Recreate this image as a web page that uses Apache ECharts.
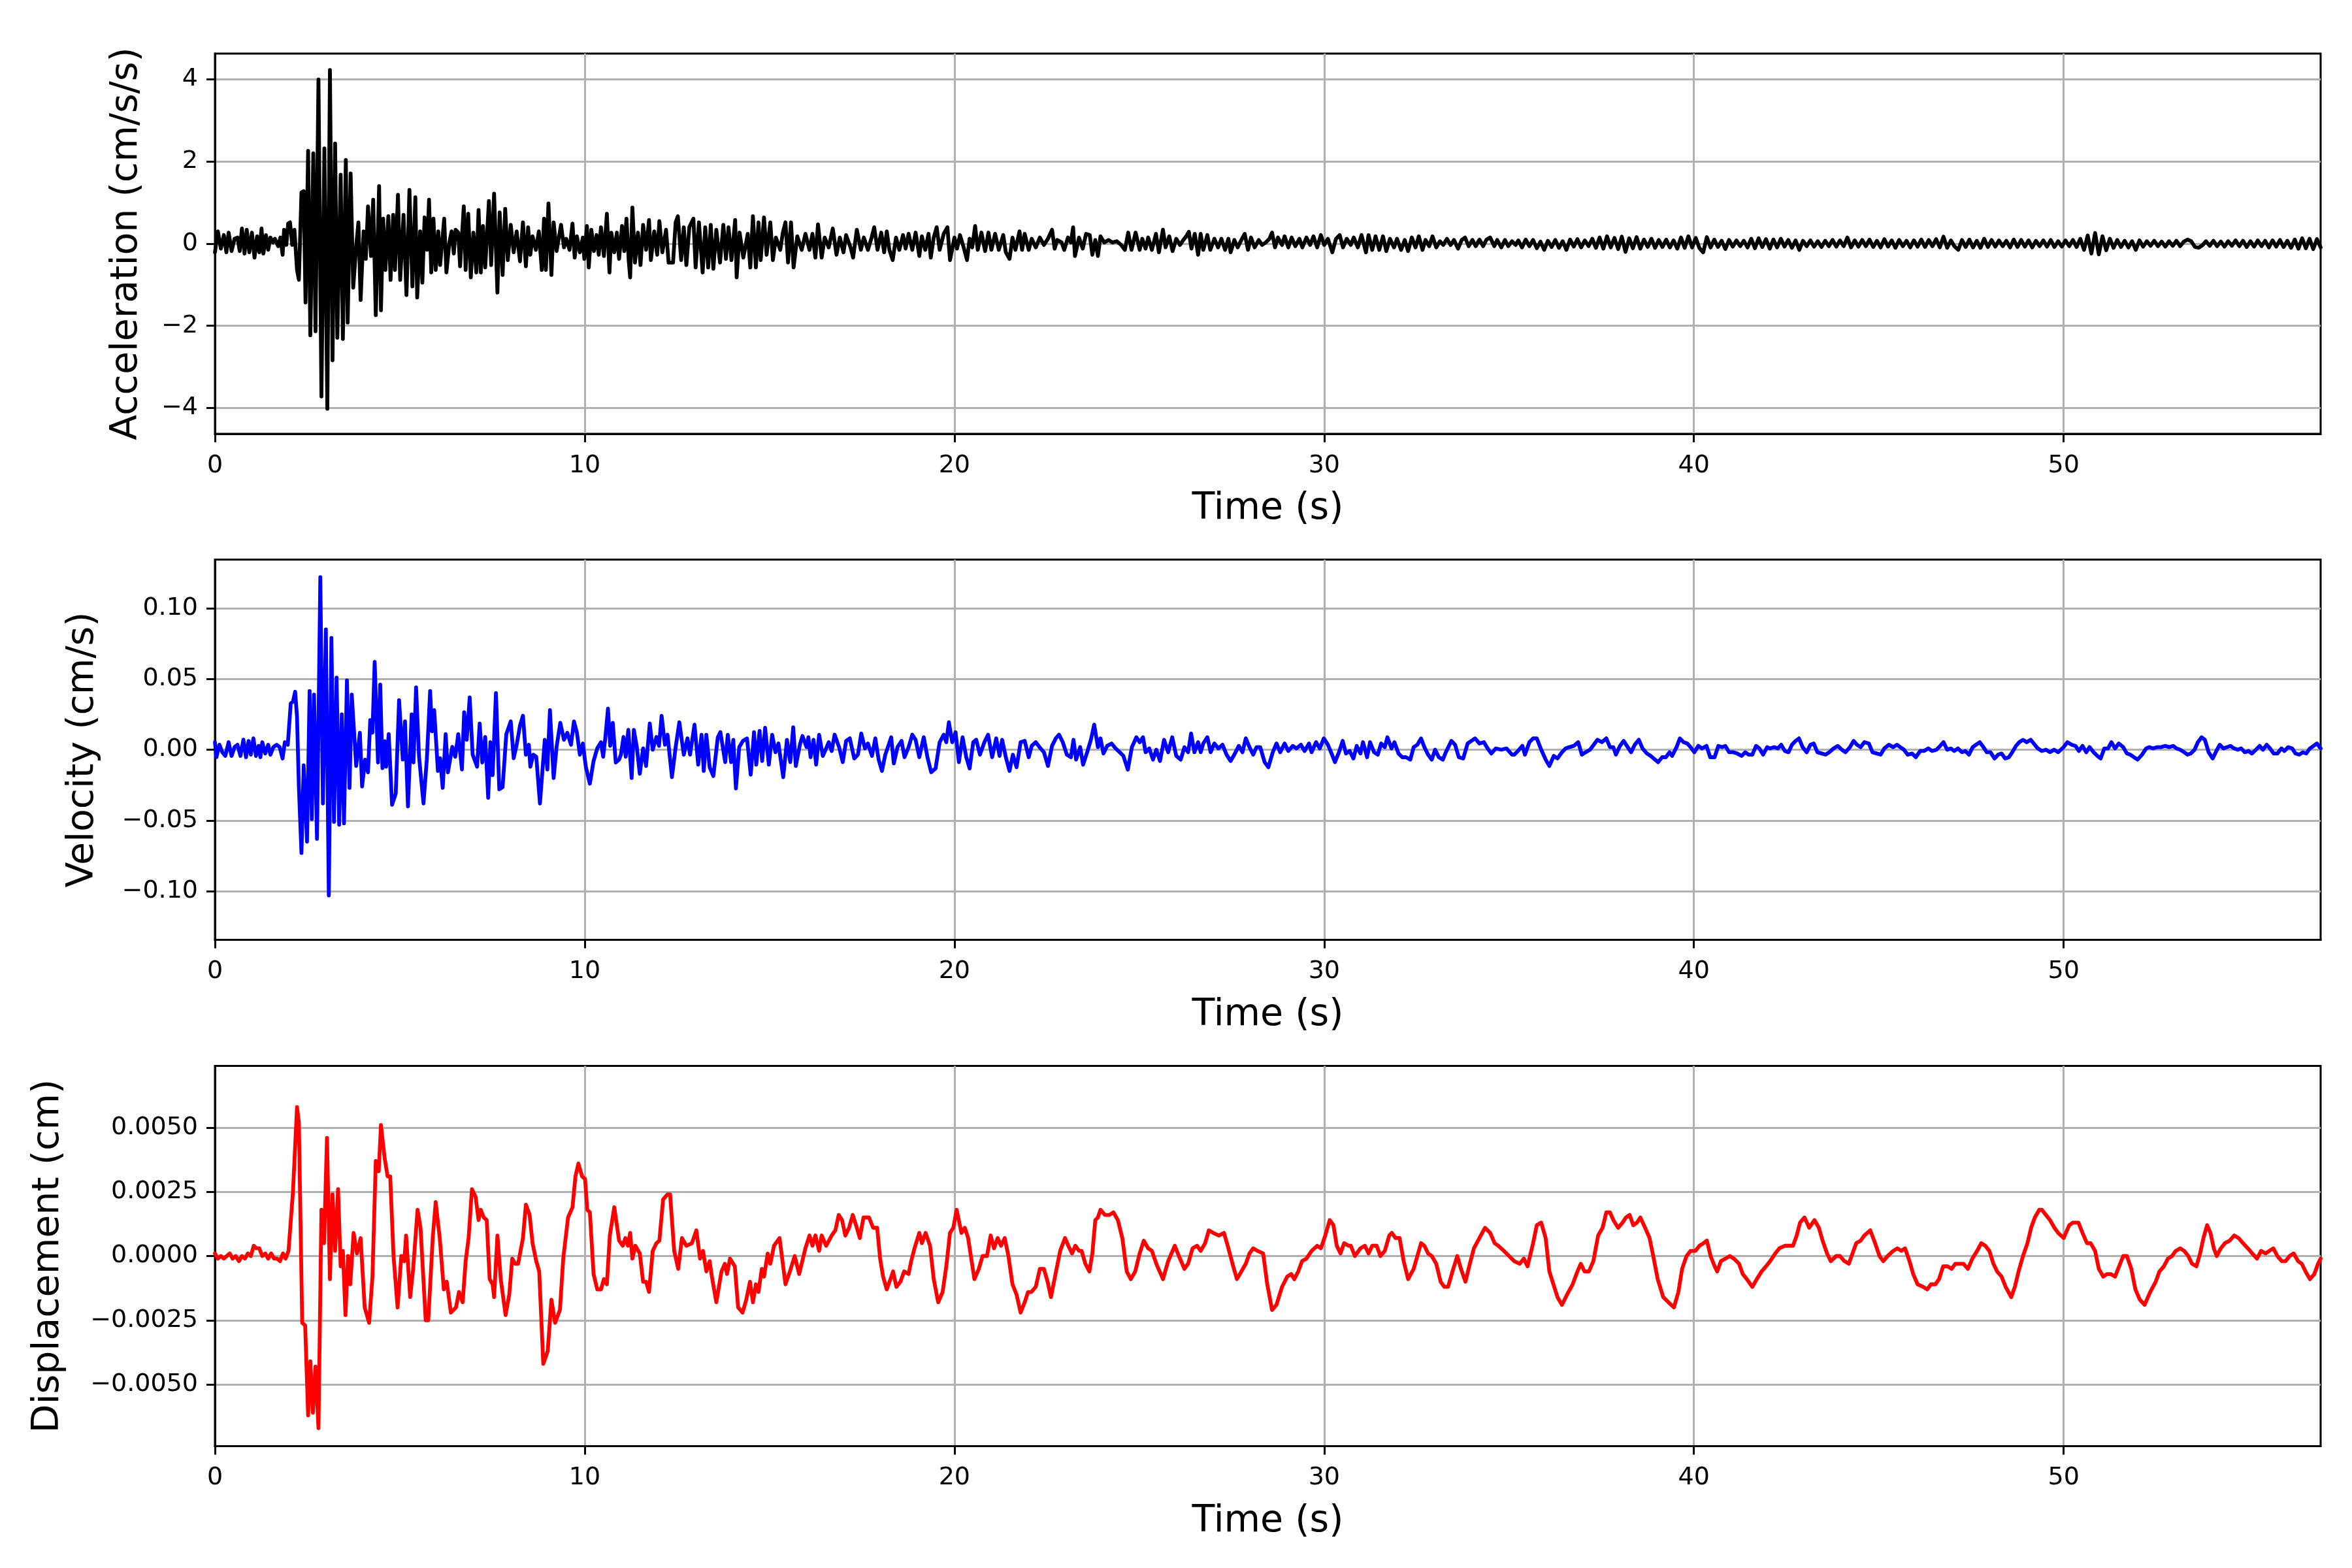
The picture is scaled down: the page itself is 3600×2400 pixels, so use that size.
<!DOCTYPE html>
<html>
<head>
<meta charset="utf-8">
<script src="https://cdn.jsdelivr.net/npm/echarts@6/dist/echarts.min.js"></script>
<style>
  html, body { margin: 0; padding: 0; background: #fff; }
  #main { width: 3600px; height: 2400px; }
</style>
</head>
<body>
<div id="main"></div>
<script>
// tick labels
var timeTicks = [0, 10, 20, 30, 40, 50];
var accelTicks = [-4, -2, 0, 2, 4];
var velTicks = [-0.10, -0.05, 0, 0.05, 0.10];
var dispTicks = [-0.005, -0.0025, 0, 0.0025, 0.005];

// axis extents
var timeMax = 56.95;
var accelLim = 4.63;
var velLim = 0.1344;
var dispLim = 0.0074;

// acceleration [time, cm/s/s]
var accelEarly = [
  [0.00,-0.21],[0.08,0.30],[0.16,-0.12],[0.24,0.21],[0.31,-0.21],[0.37,0.27],[0.45,-0.18],[0.53,0.12],[0.61,0.15],[0.67,-0.18],
  [0.73,0.37],[0.80,-0.24],[0.86,0.34],[0.93,-0.21],[1.00,0.27],[1.07,-0.34],[1.14,0.18],[1.20,-0.21],[1.26,0.37],[1.31,-0.24],
  [1.38,0.21],[1.44,-0.15],[1.50,0.15],[1.57,0.03],[1.62,0.12],[1.71,-0.06],[1.77,0.15],[1.83,-0.27],[1.87,0.34],[1.93,-0.03],
  [1.98,0.49],[2.03,0.52],[2.09,-0.03],[2.15,0.34],[2.22,-0.64],[2.27,-0.88],[2.34,1.25],[2.40,1.28],[2.45,-1.43],[2.52,2.26],
  [2.58,-2.23],[2.66,2.20],[2.72,-2.13],[2.80,4.00],[2.88,-3.72],[2.96,2.32],[3.04,-4.02],[3.11,4.23],[3.18,-2.84],[3.25,2.44],
  [3.31,-2.29],[3.40,1.68],[3.46,-2.32],[3.54,2.04],[3.59,-1.92],[3.67,1.71],[3.74,-1.07],[3.82,-0.06],[3.88,0.52],[3.94,-1.37],
  [4.02,0.30],[4.08,-0.37],[4.14,0.91],[4.22,-0.30],[4.28,1.07],[4.35,-1.74],[4.44,1.40],[4.49,-1.62],[4.55,0.61],[4.61,-0.64],
  [4.69,0.67],[4.75,-0.88],[4.82,0.70],[4.87,-0.64],[4.95,1.19],[5.01,-0.88],[5.10,0.70],[5.18,-1.25],[5.26,1.31],[5.34,-1.04],
  [5.42,1.13],[5.47,-1.31],[5.55,0.30],[5.61,-0.95],[5.67,0.64],[5.74,-0.15],[5.79,1.07],[5.85,-0.70],[5.91,0.61],[5.97,-0.64],
  [6.04,0.30],[6.09,-0.52],[6.20,0.61],[6.26,-0.70],[6.34,0.03],[6.40,0.30],[6.46,-0.24],[6.51,0.34],[6.58,0.27],[6.63,-0.55],
  [6.73,0.91],[6.78,-0.64],[6.85,0.73],[6.92,-0.82],[6.99,0.27],[7.07,-0.70],[7.13,0.82],[7.19,-0.70],[7.25,0.43],[7.31,-0.58],
  [7.41,1.04],[7.47,-0.52],[7.55,1.22],[7.64,-1.19],[7.70,0.76],[7.78,-0.76],[7.85,0.85],[7.92,-0.40],[8.00,0.46],[8.08,-0.21],
  [8.16,0.30],[8.25,-0.43],[8.33,0.52],[8.41,-0.55],[8.47,0.40],[8.53,-0.27],[8.59,0.18],[8.68,-0.15],[8.76,0.30],[8.84,-0.64],
  [8.90,0.61],[8.95,-0.64],[9.02,0.98],[9.10,-0.76],[9.16,0.52],[9.24,-0.18],[9.36,0.46],[9.44,-0.09],[9.50,0.12],[9.59,-0.15],
  [9.67,0.49],[9.73,-0.34],[9.79,0.18],[9.87,-0.21],[9.95,0.15],[9.99,-0.37],[10.06,0.43],[10.11,-0.58],[10.18,0.34],[10.25,-0.18],
  [10.32,0.21],[10.38,-0.27],[10.44,0.40],[10.52,-0.30],[10.60,0.73],[10.67,-0.70],[10.72,0.27],[10.80,-0.21],[10.87,0.27],[10.93,-0.37],
  [11.01,0.43],[11.07,-0.18],[11.13,0.61],[11.19,-0.40],[11.23,-0.82],[11.29,0.88],[11.36,-0.46],[11.44,0.27],[11.51,-0.52],[11.58,0.46],
  [11.66,-0.15],[11.74,0.58],[11.79,-0.40],[11.88,0.30],[11.96,-0.27],[12.02,0.55],[12.10,-0.21],[12.20,0.34],[12.27,-0.46]
];
var accelMid = [
  [12.39,-0.46],[12.46,0.52],[12.52,0.67],[12.61,-0.40],[12.68,0.40],[12.75,-0.52],[12.83,0.40],[12.94,0.61],[13.00,-0.58],[13.09,0.52],
  [13.19,-0.70],[13.26,0.40],[13.34,-0.58],[13.41,0.46],[13.48,-0.61],[13.56,0.34],[13.66,-0.46],[13.75,0.46],[13.82,-0.37],[13.89,0.40],
  [13.97,-0.40],[14.07,0.58],[14.11,-0.82],[14.19,0.27],[14.29,-0.34],[14.41,0.24],[14.48,-0.58],[14.55,0.67],[14.63,-0.58],[14.70,0.52],
  [14.76,-0.40],[14.85,0.64],[14.92,-0.27],[15.02,0.52],[15.09,-0.40],[15.17,0.15],[15.29,-0.15],[15.36,0.27],[15.43,0.52],[15.50,-0.46],
  [15.58,0.52],[15.65,-0.58],[15.75,0.18],[15.87,-0.15],[15.97,0.24],[16.08,-0.15],[16.16,0.24],[16.24,-0.34],[16.31,0.47],[16.41,-0.34],
  [16.49,0.15],[16.60,-0.09],[16.71,0.37],[16.81,-0.27],[16.90,0.15],[17.00,-0.21],[17.07,0.21],[17.19,-0.09],[17.26,-0.34],[17.36,0.34],
  [17.47,-0.15],[17.55,0.15],[17.66,-0.15],[17.76,0.15],[17.83,0.40],[17.92,-0.15],[18.02,0.27],[18.10,-0.21],[18.17,0.30],[18.24,-0.15],
  [18.33,-0.40],[18.42,0.15],[18.51,-0.15],[18.61,0.21],[18.68,-0.12],[18.76,0.24],[18.86,-0.15],[18.95,0.27],[19.05,-0.30],[19.12,0.18],
  [19.21,-0.15],[19.30,0.24],[19.36,-0.34],[19.44,0.15],[19.52,0.40],[19.60,-0.15],[19.71,0.24],[19.81,0.40],[19.88,-0.40],[20.00,0.15],
  [20.07,-0.12],[20.15,0.21],[20.25,-0.09],[20.34,-0.40],[20.41,0.12],[20.48,-0.09],[20.56,0.43],[20.63,-0.15],[20.73,0.27],[20.83,-0.18],
  [20.92,0.27],[21.00,-0.15],[21.10,0.24],[21.20,-0.15],[21.32,0.21],[21.39,-0.21],[21.49,-0.37],[21.57,0.15],[21.65,-0.15],[21.76,0.30],
  [21.83,-0.15],[21.90,0.24],[22.01,-0.15],[22.09,0.12],[22.20,-0.09],[22.31,0.15],[22.42,-0.03],[22.53,0.12],[22.64,0.34],[22.71,-0.12],
  [22.78,0.09],[22.90,0.03],[22.97,-0.15],[23.07,0.15],[23.15,0.03],[23.21,0.40],[23.26,-0.30],[23.37,0.15],[23.47,-0.12],[23.56,0.24],
  [23.66,0.21],[23.73,-0.27],[23.81,0.09],[23.88,-0.30],[23.95,0.18],[24.05,0.03],[24.17,0.09],[24.27,0.03],[24.39,0.06],[24.51,-0.03],
  [24.61,-0.15],[24.70,0.27],[24.79,-0.15],[24.90,0.27],[25.01,-0.15],[25.08,0.12],[25.17,-0.12],[25.24,0.15],[25.34,-0.15],[25.45,0.24],
  [25.53,-0.21],[25.64,0.34],[25.71,-0.09],[25.81,0.18],[25.90,-0.18],[26.00,0.12],[26.10,-0.03],[26.19,0.09],[26.27,0.18],[26.34,0.29],
  [26.41,-0.12],[26.50,0.24],[26.59,-0.27],[26.66,0.24],[26.73,-0.15],[26.84,0.21],[26.92,-0.15],[27.03,0.12],[27.13,-0.09],[27.22,0.12],
  [27.32,-0.15],[27.41,0.12],[27.47,-0.21],[27.57,0.09],[27.66,-0.09],[27.76,0.09],[27.85,0.24],[27.94,-0.15],[28.02,0.15],[28.12,-0.09],
  [28.23,0.09],[28.32,-0.03],[28.42,0.03],[28.52,0.12],[28.59,0.27],[28.67,-0.09],[28.75,0.15],[28.86,-0.03],[28.93,0.18],[29.03,-0.09],
  [29.12,0.15],[29.22,-0.06],[29.33,0.12],[29.41,-0.09],[29.52,0.15],[29.62,-0.03],[29.71,0.18],[29.81,-0.09],[29.91,0.21],[30.00,-0.03],
  [30.10,0.12],[30.22,-0.21],[30.32,0.12],[30.42,0.21],[30.51,-0.09],[30.61,0.12],[30.72,-0.03],[30.80,0.15],[30.91,-0.09],[31.01,0.21],
  [31.13,-0.21],[31.20,0.21],[31.30,-0.15],[31.39,0.18],[31.49,-0.15],[31.59,0.18],[31.68,-0.18],[31.78,0.12],[31.89,-0.09],[31.97,0.12],
  [32.08,-0.15],[32.18,0.09],[32.27,-0.18],[32.37,0.15],[32.47,-0.09],[32.56,0.18],[32.66,-0.15],[32.74,0.09],[32.84,-0.06],[32.93,0.18],
  [33.03,-0.09],[33.13,0.06],[33.22,-0.03],[33.32,0.12],[33.42,-0.03],[33.51,0.09],[33.62,-0.12],[33.72,0.09],[33.81,0.15],[33.91,-0.06],
  [34.01,0.09],[34.10,-0.06],[34.20,0.10],[34.30,-0.06],[34.39,0.10],[34.49,0.15],[34.60,-0.06],[34.68,0.09],[34.79,-0.09],[34.89,0.09],
  [34.98,-0.06],[35.08,0.06],[35.18,-0.03]
];
// tail samples every 0.1 s from 35.25 s
var accelLateStart = 35.25;
var accelLateStep = 0.1;
var accelLate = [
  0.08,-0.09,0.10,-0.06,0.09,-0.11,0.05,-0.15,0.07,-0.08,
  0.09,-0.10,0.06,-0.15,0.10,-0.07,0.11,-0.09,0.08,-0.06,
  0.12,-0.10,0.15,-0.12,0.18,-0.09,0.14,-0.13,0.17,-0.20,
  0.13,-0.11,0.16,-0.12,0.10,-0.08,0.12,-0.10,0.09,-0.08,
  0.10,-0.09,0.08,-0.12,0.15,-0.10,0.18,-0.09,0.14,-0.11,
  -0.21,0.16,-0.09,0.10,-0.08,0.07,-0.13,0.09,-0.07,0.08,
  -0.06,0.07,-0.09,0.12,-0.11,0.13,-0.08,0.11,-0.12,0.10,
  -0.09,0.12,-0.07,0.09,-0.10,0.08,-0.15,0.07,-0.06,0.08,
  -0.07,0.06,-0.08,0.07,-0.06,0.09,-0.07,0.08,-0.06,0.15,
  -0.09,0.08,-0.07,0.09,-0.06,0.10,-0.08,0.07,-0.09,0.11,
  -0.07,0.08,-0.10,0.09,-0.06,0.07,-0.09,0.08,-0.07,0.10,
  -0.08,0.09,-0.06,0.11,-0.09,0.17,-0.10,0.08,-0.07,-0.15,
  0.09,-0.08,0.10,-0.09,0.07,-0.10,0.12,-0.08,0.09,-0.07,
  0.08,-0.06,0.07,-0.09,0.10,-0.08,0.09,-0.07,0.08,-0.09,
  0.07,-0.06,0.08,-0.07,0.09,-0.08,0.06,-0.07,0.08,-0.06,
  0.09,-0.08,0.12,-0.15,0.20,-0.24,0.26,-0.26,0.18,-0.16,
  0.12,-0.10,0.09,-0.08,0.07,-0.09,0.06,-0.15,0.08,-0.07,
  0.06,-0.05,0.07,-0.06,0.05,-0.07,0.06,-0.05,0.07,-0.06,
  0.05,0.10,0.06,-0.08,-0.10,-0.04,0.06,-0.05,0.07,-0.06,
  0.05,-0.07,0.06,-0.05,0.08,-0.06,0.07,-0.08,0.06,-0.07,
  0.08,-0.06,0.07,-0.09,0.08,-0.07,0.09,-0.08,0.07,-0.10,
  0.10,-0.12,0.13,-0.11,0.12,-0.13,0.11,-0.09
];

// velocity [time, cm/s]
var velEarly = [
  [0.00,0.0053],[0.04,-0.0053],[0.12,0.0035],[0.20,-0.0018],[0.28,-0.0044],[0.37,0.0053],[0.45,-0.0044],[0.53,0.0018],[0.61,0.0035],[0.69,-0.0044],
  [0.77,0.0071],[0.84,-0.0053],[0.91,0.0062],[0.97,-0.0035],[1.04,0.0080],[1.11,-0.0044],[1.18,0.0027],[1.23,-0.0053],[1.28,0.0053],[1.36,-0.0027],
  [1.44,0.0035],[1.50,-0.0035],[1.58,0.0018],[1.67,0.0035],[1.75,0.0018],[1.83,-0.0062],[1.89,0.0053],[1.97,0.0035],[2.05,0.0327],[2.11,0.0340],
  [2.17,0.0410],[2.22,0.0230],[2.27,-0.0265],[2.34,-0.0730],[2.40,-0.0110],[2.49,-0.0650],[2.56,0.0415],[2.62,-0.0490],[2.68,0.0390],[2.76,-0.0630],
  [2.85,0.1220],[2.92,-0.0380],[3.00,0.0850],[3.08,-0.1030],[3.15,0.0790],[3.22,-0.0510],[3.29,0.0510],[3.36,-0.0530],[3.43,0.0250],[3.49,-0.0520],
  [3.57,0.0490],[3.64,-0.0270],[3.70,0.0390],[3.82,-0.0115],[3.92,0.0120],[3.98,-0.0260],[4.06,-0.0070],[4.14,-0.0160],[4.20,0.0210],[4.26,0.0120],
  [4.32,0.0620],[4.41,-0.0090],[4.47,0.0460],[4.53,-0.0130],[4.59,0.0060],[4.63,-0.0120],[4.70,0.0110],[4.79,-0.0390],[4.89,-0.0310],[4.98,0.0350],
  [5.08,-0.0070],[5.14,0.0200],[5.22,-0.0400],[5.32,0.0250],[5.37,-0.0090],[5.44,0.0440],[5.52,-0.0050],[5.64,-0.0380],[5.73,-0.0070],[5.82,0.0415],
  [5.87,0.0130],[5.93,0.0280],[6.03,-0.0150],[6.09,-0.0060],[6.16,-0.0270],[6.24,0.0110],[6.30,-0.0160],[6.42,0.0020],[6.50,-0.0050],[6.58,0.0110],
  [6.68,-0.0140],[6.74,0.0265],[6.81,0.0070],[6.89,0.0370],[6.97,-0.0035],[7.09,-0.0120],[7.16,0.0185],[7.23,-0.0090],[7.31,0.0090],[7.39,-0.0340],
  [7.45,0.0053],[7.51,-0.0180],[7.60,0.0400],[7.69,-0.0280],[7.78,-0.0265],[7.88,0.0110],[8.00,0.0200],[8.08,-0.0060],[8.16,0.0035],[8.25,0.0170],
  [8.33,0.0240],[8.41,-0.0035],[8.49,0.0035],[8.53,-0.0120],[8.61,-0.0035],[8.69,-0.0050],[8.79,-0.0380],[8.92,0.0070],[8.99,-0.0140],[9.06,0.0280],
  [9.16,-0.0200],[9.24,0.0020],[9.34,0.0190],[9.44,0.0070],[9.53,0.0120],[9.63,0.0035],[9.71,0.0200],[9.79,0.0120],[9.87,-0.0035],[9.95,0.0044],
  [10.03,-0.0120],[10.14,-0.0240],[10.24,-0.0080],[10.34,0.0010],[10.44,0.0053],[10.50,-0.0050],[10.56,0.0090],[10.63,0.0290],[10.69,0.0027],[10.76,0.0190],
  [10.84,-0.0090],[10.93,-0.0070],[10.98,-0.0035],[11.05,0.0090],[11.11,-0.0050],[11.18,0.0140],[11.27,-0.0200],[11.33,0.0140],[11.41,0.0018],[11.49,-0.0170],
  [11.58,0.0010],[11.66,-0.0115],[11.76,0.0185],[11.84,0.0000],[11.94,0.0090],[12.01,0.0027],[12.08,0.0240],[12.17,0.0035]
];
var velLate = [
  [12.24,0.0106],[12.36,-0.0194],[12.46,0.0018],[12.56,0.0194],[12.68,-0.0035],[12.78,0.0080],[12.85,-0.0035],[12.97,0.0177],[13.07,-0.0106],[13.16,0.0106],
  [13.22,-0.0150],[13.29,0.0106],[13.38,-0.0124],[13.48,-0.0186],[13.60,0.0088],[13.67,0.0124],[13.80,-0.0088],[13.87,0.0106],[13.96,-0.0088],[14.02,0.0070],
  [14.09,-0.0274],[14.18,0.0018],[14.28,0.0062],[14.39,0.0080],[14.49,-0.0177],[14.58,0.0124],[14.64,-0.0106],[14.73,0.0133],[14.80,-0.0080],[14.88,0.0155],
  [14.98,-0.0106],[15.07,0.0106],[15.16,-0.0018],[15.24,0.0044],[15.37,-0.0194],[15.47,0.0070],[15.56,-0.0088],[15.64,0.0159],[15.71,-0.0115],[15.82,0.0035],
  [15.89,0.0097],[16.00,0.0018],[16.05,0.0088],[16.11,-0.0053],[16.19,0.0070],[16.26,-0.0106],[16.34,0.0106],[16.44,-0.0044],[16.53,0.0009],[16.60,0.0053],
  [16.68,-0.0009],[16.76,0.0106],[16.88,0.0018],[16.98,-0.0088],[17.07,0.0062],[17.17,0.0080],[17.29,-0.0062],[17.39,-0.0035],[17.48,0.0115],[17.58,0.0009],
  [17.66,0.0044],[17.77,-0.0044],[17.86,0.0080],[17.95,-0.0070],[18.04,-0.0150],[18.13,-0.0035],[18.20,0.0018],[18.29,0.0088],[18.36,-0.0097],[18.46,0.0018],
  [18.57,0.0062],[18.65,-0.0053],[18.76,0.0018],[18.86,0.0106],[18.95,0.0070],[19.05,-0.0053],[19.17,0.0088],[19.27,-0.0053],[19.37,-0.0159],[19.49,-0.0133],
  [19.60,0.0053],[19.71,0.0106],[19.78,0.0053],[19.85,0.0194],[19.94,0.0053],[20.03,0.0124],[20.12,-0.0088],[20.22,0.0088],[20.32,-0.0053],[20.41,-0.0133],
  [20.51,0.0053],[20.59,0.0070],[20.69,-0.0035],[20.81,0.0053],[20.91,0.0106],[21.02,-0.0053],[21.13,0.0080],[21.22,-0.0044],[21.29,0.0070],[21.39,-0.0053],
  [21.49,-0.0150],[21.58,-0.0035],[21.68,-0.0124],[21.79,0.0053],[21.90,0.0062],[22.01,-0.0053],[22.09,0.0027],[22.20,0.0053],[22.30,0.0018],[22.42,-0.0018],
  [22.53,-0.0115],[22.64,0.0027],[22.74,0.0080],[22.83,0.0106],[22.93,0.0053],[23.04,-0.0035],[23.15,-0.0053],[23.22,0.0070],[23.29,-0.0070],[23.40,0.0018],
  [23.48,-0.0106],[23.59,-0.0018],[23.69,0.0070],[23.78,0.0177],[23.88,0.0018],[23.95,0.0080],[24.03,-0.0027],[24.13,0.0027],[24.25,0.0044],[24.36,0.0009],
  [24.47,-0.0018],[24.57,-0.0044],[24.69,-0.0141],[24.80,0.0018],[24.92,0.0088],[25.01,0.0053],[25.10,0.0088],[25.17,-0.0018],[25.27,0.0009],[25.37,-0.0070],
  [25.46,0.0000],[25.56,-0.0080],[25.67,0.0070],[25.78,-0.0018],[25.89,0.0088],[26.00,-0.0044],[26.12,-0.0070],[26.22,0.0018],[26.32,-0.0018],[26.40,0.0115],
  [26.49,-0.0018],[26.59,0.0053],[26.66,-0.0018],[26.73,0.0044],[26.84,0.0088],[26.93,-0.0018],[27.03,0.0044],[27.14,0.0009],[27.25,0.0035],[27.36,-0.0035],
  [27.47,-0.0080],[27.57,-0.0035],[27.69,0.0027],[27.79,-0.0018],[27.88,0.0080],[27.98,0.0018],[28.08,-0.0035],[28.17,0.0018],[28.27,0.0018],[28.39,-0.0088],
  [28.49,-0.0124],[28.61,-0.0018],[28.71,0.0044],[28.81,-0.0018],[28.93,0.0044],[29.03,-0.0009],[29.15,0.0027],[29.25,0.0009],[29.37,0.0035],[29.47,-0.0009],
  [29.59,0.0044],[29.66,-0.0018],[29.78,0.0053],[29.88,0.0009],[29.99,0.0080],[30.10,0.0035],[30.20,-0.0027],[30.29,-0.0088],[30.40,-0.0018],[30.50,0.0062],
  [30.59,-0.0027],[30.69,-0.0009],[30.79,-0.0062],[30.88,0.0027],[30.98,-0.0027],[31.05,0.0053],[31.16,-0.0053],[31.24,0.0053],[31.35,-0.0018],[31.45,-0.0035],
  [31.54,0.0044],[31.64,0.0018],[31.71,0.0088],[31.82,0.0009],[31.90,0.0053],[32.01,-0.0027],[32.11,-0.0053],[32.21,-0.0053],[32.33,-0.0070],[32.42,0.0018],
  [32.52,0.0035],[32.62,0.0080],[32.71,0.0018],[32.81,-0.0035],[32.91,-0.0070],[33.00,0.0000],[33.10,-0.0053],[33.21,-0.0070],[33.29,-0.0018],[33.44,0.0062],
  [33.54,0.0035],[33.64,-0.0053],[33.76,-0.0062],[33.88,0.0044],[33.98,0.0062],[34.08,0.0080],[34.20,0.0044],[34.32,0.0053],[34.42,0.0009],[34.52,-0.0027],
  [34.64,0.0009],[34.79,0.0000],[34.93,0.0009],[35.08,-0.0035],[35.14,-0.0035],[35.24,-0.0009],[35.36,0.0027],[35.43,-0.0035],[35.55,0.0053],[35.65,0.0080],
  [35.75,0.0080],[35.87,0.0000],[35.99,-0.0070],[36.09,-0.0115],[36.21,-0.0044],[36.31,-0.0062],[36.43,-0.0018],[36.53,0.0009],[36.63,0.0018],[36.75,0.0027],
  [36.87,0.0053],[36.97,-0.0035],[37.07,-0.0018],[37.19,0.0000],[37.29,0.0035],[37.39,0.0070],[37.51,0.0053],[37.63,0.0080],[37.73,0.0018],[37.82,0.0018],
  [37.89,-0.0035],[38.00,0.0027],[38.10,0.0062],[38.21,0.0018],[38.30,-0.0018],[38.40,0.0035],[38.51,0.0070],[38.61,0.0009],[38.73,-0.0027],[38.83,-0.0044],
  [38.95,-0.0070],[39.03,-0.0088],[39.14,-0.0053],[39.24,-0.0053],[39.34,-0.0018],[39.41,-0.0044],[39.53,0.0018],[39.62,0.0080],[39.72,0.0053],[39.82,0.0044],
  [39.91,0.0018],[40.01,-0.0018],[40.12,0.0027],[40.22,0.0009],[40.34,0.0027],[40.44,-0.0053],[40.56,-0.0053],[40.66,0.0027],[40.76,0.0018],[40.85,0.0027],
  [40.95,-0.0018],[41.07,-0.0018],[41.17,-0.0027],[41.29,-0.0044],[41.39,-0.0018],[41.48,-0.0035],[41.58,-0.0035],[41.68,0.0027],[41.77,0.0009],[41.87,-0.0035],
  [41.98,0.0018],[42.06,0.0009],[42.17,0.0018],[42.27,0.0009],[42.36,0.0035],[42.46,-0.0009],[42.56,-0.0018],[42.65,0.0035],[42.75,0.0062],[42.84,0.0080],
  [42.94,0.0018],[43.05,-0.0018],[43.15,0.0035],[43.24,0.0044],[43.34,-0.0018],[43.46,-0.0027],[43.56,-0.0035],[43.66,-0.0018],[43.78,0.0009],[43.89,0.0027],
  [44.00,0.0000],[44.10,-0.0018],[44.22,0.0018],[44.32,0.0062],[44.41,0.0035],[44.51,0.0018],[44.61,0.0053],[44.73,0.0044],[44.83,-0.0018],[44.95,-0.0027],
  [45.05,-0.0035],[45.15,0.0009],[45.27,0.0035],[45.39,0.0018],[45.49,0.0035],[45.58,0.0018],[45.68,0.0000],[45.78,-0.0035],[45.90,-0.0027],[46.00,-0.0053],
  [46.12,-0.0009],[46.22,-0.0009],[46.34,0.0009],[46.44,-0.0009],[46.56,0.0000],[46.66,0.0027],[46.75,0.0053],[46.85,0.0000],[46.95,0.0009],[47.04,-0.0009],
  [47.14,0.0009],[47.25,-0.0018],[47.34,-0.0009],[47.44,-0.0035],[47.54,0.0018],[47.63,0.0035],[47.73,0.0053],[47.83,0.0018],[47.92,-0.0018],[48.02,-0.0018],
  [48.13,-0.0062],[48.23,-0.0035],[48.32,-0.0027],[48.42,-0.0062],[48.52,-0.0053],[48.61,-0.0018],[48.71,0.0027],[48.80,0.0053],[48.90,0.0070],[49.00,0.0053],
  [49.11,0.0070],[49.19,0.0044],[49.30,0.0009],[49.41,-0.0009],[49.52,0.0000],[49.63,-0.0018],[49.74,0.0000],[49.85,-0.0018],[50.00,0.0018],[50.10,0.0053],
  [50.22,0.0035],[50.32,0.0027],[50.41,-0.0009],[50.51,0.0027],[50.61,-0.0018],[50.70,0.0018],[50.81,-0.0018],[50.91,-0.0044],[51.00,-0.0062],[51.10,0.0009],
  [51.20,0.0009],[51.29,0.0053],[51.39,0.0009],[51.49,0.0044],[51.61,0.0018],[51.71,-0.0027],[51.80,-0.0035],[51.90,-0.0053],[52.00,-0.0070],[52.12,-0.0035],
  [52.23,0.0009],[52.31,0.0018],[52.42,0.0009],[52.53,0.0018],[52.64,0.0018],[52.74,0.0027],[52.86,0.0018],[52.96,0.0027],[53.05,0.0009],[53.15,0.0000],
  [53.26,-0.0018],[53.35,-0.0035],[53.44,-0.0027],[53.54,0.0000],[53.63,0.0053],[53.73,0.0088],[53.82,0.0070],[53.92,-0.0018],[54.03,-0.0062],[54.13,-0.0009],
  [54.22,0.0035],[54.32,0.0009],[54.42,0.0018],[54.51,0.0027],[54.61,0.0009],[54.71,0.0000],[54.80,0.0009],[54.90,-0.0018],[55.00,-0.0009],[55.09,-0.0027],
  [55.20,0.0000],[55.30,0.0027],[55.39,0.0000],[55.49,0.0035],[55.58,0.0009],[55.68,-0.0027],[55.78,-0.0027],[55.89,0.0009],[55.97,-0.0009],[56.07,0.0018],
  [56.18,0.0009],[56.27,-0.0027],[56.37,-0.0035],[56.47,-0.0018],[56.56,-0.0027],[56.66,0.0009],[56.76,0.0027],[56.85,0.0044],[56.95,0.0009]
];

// displacement [time, cm]
var dispEarly = [
  [0.00,0.0001],[0.08,-0.0001],[0.16,0.0000],[0.24,-0.0001],[0.32,0.0000],[0.40,0.0001],[0.48,-0.0001],[0.56,0.0000],[0.65,-0.0002],[0.73,0.0000],
  [0.81,-0.0001],[0.89,0.0001],[0.97,0.0000],[1.05,0.0004],[1.12,0.0003],[1.20,0.0003],[1.28,0.0000],[1.36,0.0001],[1.44,-0.0001],[1.52,0.0001],
  [1.60,-0.0001],[1.68,-0.0001],[1.76,-0.0002],[1.84,0.0001],[1.91,-0.0001],[1.99,0.0002],[2.11,0.0025],[2.22,0.0058],[2.27,0.0052],[2.36,-0.0026],
  [2.44,-0.0027],[2.52,-0.0062],[2.58,-0.0041],[2.65,-0.0061],[2.72,-0.0043],[2.80,-0.0067],[2.88,0.0018],[2.95,0.0005],[3.03,0.0046],[3.11,-0.0009],
  [3.18,0.0024],[3.25,0.0002],[3.33,0.0026],[3.40,-0.0004],[3.46,0.0002],[3.53,-0.0023],[3.60,0.0000],[3.66,-0.0011],[3.75,0.0009],[3.84,0.0001],
  [3.94,0.0007],[4.05,-0.0020],[4.17,-0.0026],[4.26,-0.0008],[4.35,0.0037],[4.43,0.0033],[4.49,0.0051],[4.59,0.0038],[4.67,0.0031],[4.74,0.0031],
  [4.83,0.0000],[4.94,-0.0020],[5.04,0.0000],[5.12,-0.0002],[5.17,0.0008],[5.28,-0.0016],[5.36,-0.0005],[5.48,0.0018],[5.56,0.0011],[5.70,-0.0025],
  [5.77,-0.0025],[5.89,0.0007],[5.97,0.0021],[6.08,0.0007],[6.19,-0.0013],[6.27,-0.0010],[6.38,-0.0022],[6.52,-0.0020],[6.60,-0.0014],[6.70,-0.0018],
  [6.78,-0.0002],[6.86,0.0007],[6.95,0.0026],[7.05,0.0023],[7.13,0.0014],[7.19,0.0018],[7.27,0.0015],[7.35,0.0014],[7.43,-0.0009],[7.51,-0.0011],
  [7.55,-0.0016],[7.64,0.0008],[7.73,-0.0009],[7.86,-0.0023],[7.96,-0.0015],[8.04,-0.0001],[8.12,-0.0003],[8.20,-0.0003],[8.33,0.0007],[8.41,0.0020],
  [8.51,0.0016],[8.59,0.0005],[8.69,-0.0002],[8.77,-0.0006],[8.88,-0.0042],[9.00,-0.0037],[9.10,-0.0017],[9.20,-0.0026],[9.33,-0.0021],[9.42,-0.0001],
  [9.55,0.0015],[9.67,0.0019],[9.75,0.0031],[9.83,0.0036],[9.93,0.0031],[10.01,0.0030],[10.07,0.0018],[10.14,0.0017],[10.24,-0.0007],[10.34,-0.0013],
  [10.44,-0.0013],[10.52,-0.0009],[10.60,-0.0011],[10.68,0.0008],[10.80,0.0019],[10.93,0.0006],[11.03,0.0004],[11.10,0.0007],[11.17,0.0004],[11.23,0.0009],
  [11.29,-0.0001],[11.37,0.0004],[11.49,0.0001],[11.58,-0.0010],[11.66,-0.0010],[11.74,-0.0014],[11.84,0.0002],[11.94,0.0005],[12.02,0.0006],[12.12,0.0022],
  [12.24,0.0024]
];
var dispLate = [
  [12.31,0.0024],[12.42,0.0002],[12.53,-0.0005],[12.63,0.0007],[12.75,0.0004],[12.90,0.0005],[13.02,0.0010],[13.12,-0.0001],[13.20,0.0002],[13.29,-0.0006],
  [13.38,-0.0002],[13.44,-0.0008],[13.56,-0.0018],[13.70,-0.0006],[13.79,-0.0003],[13.85,-0.0007],[13.93,-0.0001],[14.06,-0.0004],[14.15,-0.0020],[14.27,-0.0022],
  [14.37,-0.0017],[14.47,-0.0010],[14.55,-0.0018],[14.63,-0.0011],[14.70,-0.0014],[14.79,-0.0005],[14.85,-0.0008],[14.95,0.0001],[15.02,-0.0003],[15.12,0.0004],
  [15.27,0.0007],[15.43,-0.0011],[15.55,-0.0006],[15.68,0.0000],[15.80,-0.0007],[15.97,0.0003],[16.08,0.0008],[16.16,0.0004],[16.24,0.0008],[16.34,0.0002],
  [16.41,0.0008],[16.53,0.0004],[16.68,0.0008],[16.78,0.0010],[16.87,0.0016],[16.96,0.0014],[17.05,0.0008],[17.15,0.0011],[17.25,0.0016],[17.36,0.0011],
  [17.44,0.0007],[17.54,0.0015],[17.69,0.0015],[17.80,0.0011],[17.91,0.0011],[17.99,-0.0001],[18.07,-0.0008],[18.17,-0.0013],[18.27,-0.0009],[18.34,-0.0006],
  [18.43,-0.0012],[18.54,-0.0010],[18.64,-0.0006],[18.76,-0.0007],[18.83,-0.0002],[18.92,0.0003],[19.05,0.0009],[19.12,0.0005],[19.22,0.0009],[19.34,0.0004],
  [19.44,-0.0009],[19.56,-0.0018],[19.68,-0.0014],[19.78,-0.0004],[19.88,0.0009],[19.97,0.0011],[20.06,0.0018],[20.19,0.0009],[20.28,0.0011],[20.37,0.0007],
  [20.54,-0.0009],[20.66,-0.0005],[20.76,0.0000],[20.88,0.0000],[20.98,0.0008],[21.07,0.0003],[21.17,0.0007],[21.26,0.0004],[21.36,0.0007],[21.46,0.0000],
  [21.57,-0.0011],[21.68,-0.0015],[21.79,-0.0022],[21.90,-0.0018],[21.99,-0.0014],[22.08,-0.0014],[22.20,-0.0012],[22.31,-0.0005],[22.42,-0.0005],[22.52,-0.0010],
  [22.61,-0.0016],[22.72,-0.0008],[22.86,0.0002],[22.99,0.0007],[23.08,0.0004],[23.18,0.0001],[23.27,0.0004],[23.37,0.0002],[23.44,0.0002],[23.54,-0.0003],
  [23.65,-0.0006],[23.73,0.0001],[23.81,0.0014],[23.88,0.0015],[23.95,0.0018],[24.07,0.0016],[24.19,0.0016],[24.30,0.0017],[24.42,0.0014],[24.54,0.0007],
  [24.66,-0.0006],[24.77,-0.0009],[24.89,-0.0006],[25.01,0.0001],[25.12,0.0006],[25.24,0.0003],[25.34,0.0002],[25.46,-0.0003],[25.64,-0.0009],[25.78,-0.0002],
  [25.96,0.0004],[26.07,0.0000],[26.22,-0.0005],[26.32,-0.0003],[26.44,0.0003],[26.56,0.0004],[26.66,0.0002],[26.78,0.0005],[26.88,0.0010],[27.00,0.0009],
  [27.15,0.0008],[27.29,0.0009],[27.39,0.0004],[27.54,-0.0004],[27.64,-0.0009],[27.76,-0.0006],[27.88,-0.0003],[27.98,0.0001],[28.08,0.0003],[28.20,0.0002],
  [28.35,0.0001],[28.46,-0.0011],[28.59,-0.0021],[28.71,-0.0019],[28.86,-0.0012],[29.00,-0.0008],[29.11,-0.0007],[29.19,-0.0009],[29.30,-0.0006],[29.40,-0.0002],
  [29.52,-0.0001],[29.66,0.0002],[29.81,0.0004],[29.91,0.0003],[30.03,0.0008],[30.15,0.0014],[30.25,0.0012],[30.34,0.0004],[30.44,0.0001],[30.54,0.0005],
  [30.66,0.0004],[30.72,0.0004],[30.83,0.0000],[30.98,0.0003],[31.10,0.0004],[31.20,0.0001],[31.30,0.0004],[31.42,0.0004],[31.52,0.0000],[31.64,0.0002],
  [31.76,0.0008],[31.83,0.0009],[31.93,0.0007],[32.04,0.0007],[32.15,-0.0002],[32.27,-0.0009],[32.42,-0.0005],[32.52,0.0000],[32.62,0.0005],[32.71,0.0004],
  [32.81,0.0001],[32.91,0.0000],[33.03,-0.0003],[33.15,-0.0010],[33.25,-0.0012],[33.35,-0.0012],[33.47,-0.0006],[33.60,0.0000],[33.70,-0.0005],[33.82,-0.0010],
  [33.94,-0.0003],[34.05,0.0003],[34.20,0.0007],[34.35,0.0011],[34.49,0.0009],[34.61,0.0005],[34.71,0.0004],[34.86,0.0002],[35.00,0.0000],[35.14,-0.0002],
  [35.29,-0.0003],[35.40,-0.0001],[35.50,-0.0004],[35.65,0.0005],[35.75,0.0012],[35.87,0.0013],[35.99,0.0007],[36.09,-0.0006],[36.20,-0.0011],[36.31,-0.0016],
  [36.43,-0.0019],[36.57,-0.0015],[36.72,-0.0011],[36.85,-0.0006],[36.94,-0.0003],[37.04,-0.0006],[37.16,-0.0006],[37.28,-0.0002],[37.41,0.0008],[37.53,0.0011],
  [37.63,0.0017],[37.73,0.0017],[37.82,0.0014],[37.95,0.0011],[38.07,0.0013],[38.16,0.0015],[38.26,0.0016],[38.36,0.0012],[38.46,0.0013],[38.55,0.0015],
  [38.68,0.0011],[38.80,0.0007],[38.90,0.0000],[39.02,-0.0009],[39.17,-0.0016],[39.31,-0.0018],[39.46,-0.0020],[39.58,-0.0014],[39.68,-0.0005],[39.80,0.0000],
  [39.91,0.0002],[40.04,0.0002],[40.15,0.0004],[40.26,0.0005],[40.35,0.0006],[40.45,0.0000],[40.56,-0.0004],[40.63,-0.0006],[40.73,-0.0002],[40.85,-0.0001],
  [40.97,0.0000],[41.08,-0.0001],[41.22,-0.0003],[41.32,-0.0007],[41.43,-0.0009],[41.58,-0.0012],[41.70,-0.0009],[41.83,-0.0006],[41.95,-0.0004],[42.06,-0.0002],
  [42.20,0.0001],[42.31,0.0003],[42.46,0.0004],[42.58,0.0004],[42.68,0.0004],[42.78,0.0008],[42.87,0.0013],[42.99,0.0015],[43.12,0.0011],[43.26,0.0014],
  [43.38,0.0011],[43.48,0.0006],[43.60,0.0001],[43.70,-0.0002],[43.85,0.0000],[43.95,0.0000],[44.07,-0.0002],[44.19,-0.0003],[44.29,0.0001],[44.39,0.0005],
  [44.51,0.0006],[44.61,0.0008],[44.77,0.0010],[44.90,0.0005],[45.02,0.0000],[45.12,-0.0002],[45.24,0.0000],[45.39,0.0002],[45.50,0.0003],[45.61,0.0002],
  [45.71,0.0003],[45.83,-0.0002],[45.93,-0.0007],[46.05,-0.0011],[46.20,-0.0012],[46.31,-0.0013],[46.41,-0.0011],[46.53,-0.0011],[46.63,-0.0009],[46.74,-0.0004],
  [46.86,-0.0004],[46.97,-0.0005],[47.07,-0.0003],[47.19,-0.0003],[47.29,-0.0003],[47.41,-0.0005],[47.53,-0.0001],[47.66,0.0002],[47.77,0.0005],[47.88,0.0004],
  [47.99,0.0002],[48.10,-0.0003],[48.20,-0.0006],[48.32,-0.0008],[48.43,-0.0012],[48.58,-0.0016],[48.68,-0.0012],[48.78,-0.0006],[48.90,0.0000],[49.02,0.0005],
  [49.12,0.0011],[49.22,0.0015],[49.34,0.0018],[49.41,0.0018],[49.52,0.0016],[49.63,0.0014],[49.75,0.0011],[49.85,0.0009],[50.00,0.0007],[50.15,0.0012],
  [50.25,0.0013],[50.40,0.0013],[50.51,0.0009],[50.63,0.0005],[50.73,0.0005],[50.85,0.0002],[50.95,-0.0005],[51.07,-0.0008],[51.17,-0.0007],[51.27,-0.0007],
  [51.39,-0.0008],[51.50,-0.0004],[51.61,0.0000],[51.71,0.0000],[51.83,-0.0005],[51.94,-0.0013],[52.06,-0.0017],[52.19,-0.0019],[52.34,-0.0014],[52.49,-0.0010],
  [52.59,-0.0006],[52.71,-0.0004],[52.82,-0.0001],[52.93,0.0000],[53.03,0.0002],[53.15,0.0003],[53.26,0.0002],[53.37,0.0000],[53.47,-0.0003],[53.59,-0.0004],
  [53.69,0.0001],[53.78,0.0007],[53.88,0.0012],[53.97,0.0009],[54.06,0.0003],[54.14,0.0000],[54.25,0.0003],[54.36,0.0005],[54.49,0.0006],[54.61,0.0008],
  [54.73,0.0007],[54.85,0.0005],[54.98,0.0003],[55.10,0.0001],[55.23,-0.0001],[55.34,0.0002],[55.46,0.0001],[55.56,0.0002],[55.67,0.0003],[55.78,0.0000],
  [55.90,-0.0002],[56.00,-0.0002],[56.11,0.0000],[56.22,0.0001],[56.34,-0.0002],[56.44,-0.0003],[56.54,-0.0006],[56.66,-0.0009],[56.78,-0.0007],[56.88,-0.0003],
  [56.95,-0.0001]
];

var FONT = 'DejaVu Sans';
var lateAccelPairs = accelLate.map(function (v, i) { return [accelLateStart + i * accelLateStep, v]; });
var accelData = accelEarly.concat(accelMid, lateAccelPairs);
var velData = velEarly.concat(velLate);
var dispData = dispEarly.concat(dispLate);

function minusSign(s) {
  return s.charAt(0) === '-' ? '\u2212' + s.slice(1) : s;
}

var panelTops = [82, 856.5, 1631.5];
var panelHeight = 582;

function makeGrid(top) {
  return { left: 329, right: 48, top: top, height: panelHeight, show: true, borderColor: '#000', borderWidth: 3, backgroundColor: '#fff' };
}

function makeXAxis(idx) {
  return {
    type: 'value', gridIndex: idx, min: 0, max: timeMax,
    name: 'Time (s)', nameLocation: 'middle', nameGap: 87,
    nameTextStyle: { fontSize: 57, fontFamily: FONT, color: '#000' },
    axisLine: { show: true, onZero: false, lineStyle: { color: '#000', width: 3 } },
    axisTick: { show: true, length: 13, customValues: timeTicks, lineStyle: { color: '#000', width: 3 } },
    axisLabel: { show: true, margin: 30, fontSize: 38, fontFamily: FONT, color: '#000', customValues: timeTicks,
      formatter: function (v) { return String(v); } },
    splitLine: { show: true, lineStyle: { color: '#b0b0b0', width: 3 } }
  };
}

function makeYAxis(idx, name, lim, ticks, gap, fmt) {
  return {
    type: 'value', gridIndex: idx, min: -lim, max: lim,
    name: name, nameLocation: 'middle', nameGap: gap,
    nameTextStyle: { fontSize: 57, fontFamily: FONT, color: '#000' },
    axisLine: { show: true, onZero: false, lineStyle: { color: '#000', width: 3 } },
    axisTick: { show: true, length: 13, customValues: ticks, lineStyle: { color: '#000', width: 3 } },
    axisLabel: { show: true, margin: 26, fontSize: 38, fontFamily: FONT, color: '#000', customValues: ticks,
      formatter: function (v) { return minusSign(fmt(v)); } },
    splitLine: { show: true, lineStyle: { color: '#b0b0b0', width: 3 } }
  };
}

function makeSeries(idx, data, color) {
  return {
    type: 'line', xAxisIndex: idx, yAxisIndex: idx, data: data,
    showSymbol: false, symbol: 'none', silent: true, clip: true,
    lineStyle: { color: color, width: 5.8, join: 'round', cap: 'round' }
  };
}

var chart = echarts.init(document.getElementById('main'), null, { renderer: 'canvas' });
chart.setOption({
  animation: false,
  backgroundColor: '#fff',
  grid: panelTops.map(makeGrid),
  xAxis: [makeXAxis(0), makeXAxis(1), makeXAxis(2)],
  yAxis: [
    makeYAxis(0, 'Acceleration (cm/s/s)', accelLim, accelTicks, 106, function (v) { return String(Math.round(v)); }),
    makeYAxis(1, 'Velocity (cm/s)', velLim, velTicks, 173, function (v) { return v.toFixed(2); }),
    makeYAxis(2, 'Displacement (cm)', dispLim, dispTicks, 226, function (v) { return v.toFixed(4); })
  ],
  series: [
    makeSeries(0, accelData, '#000000'),
    makeSeries(1, velData, '#0000ff'),
    makeSeries(2, dispData, '#ff0000')
  ]
});
</script>
</body>
</html>
